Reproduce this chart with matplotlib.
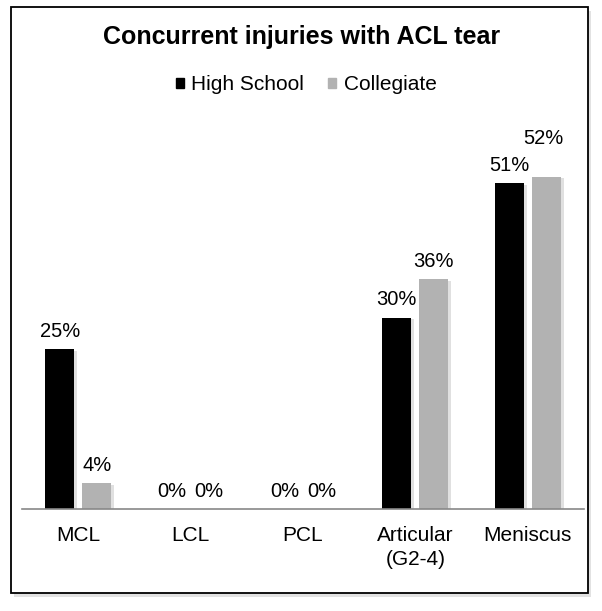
import numpy as np
import matplotlib
matplotlib.use('Agg')
import matplotlib.pyplot as plt
import matplotlib.patheffects as pe
from matplotlib.patches import Rectangle

categories = ['MCL', 'LCL', 'PCL', 'Articular\n(G2-4)', 'Meniscus']
high_school = [25, 0, 0, 30, 51]
collegiate = [4, 0, 0, 36, 52]
series_names = ['High School', 'Collegiate']
colors = ['#000000', '#b2b2b2']

plt.rcParams['font.family'] = ['Liberation Sans', 'DejaVu Sans']

fig = plt.figure(figsize=(6.02, 6.11), dpi=100)
fig.patch.set_facecolor('white')

# outer frame with a soft shadow
shadow = Rectangle((14 / 602, 1 - 597 / 611), 577 / 602, 586 / 611, transform=fig.transFigure,
                   facecolor='#e2e2e2', edgecolor='none', zorder=0)
frame = Rectangle((11 / 602, 1 - 593 / 611), 577 / 602, 586 / 611, transform=fig.transFigure,
                  facecolor='white', edgecolor='black', linewidth=1.3, zorder=0.5)
fig.patches.extend([shadow, frame])

ax = fig.add_axes([22 / 602, 1 - 509 / 611, 562 / 602, 383 / 611])
ax.set_facecolor('none')
ax.set_zorder(2)

x = np.arange(len(categories))
width = 0.258
offset = 0.165
shadow_fx = [pe.SimplePatchShadow(offset=(2, -1), shadow_rgbFace='#cccccc', alpha=0.6), pe.Normal()]

# Meniscus collegiate label sits higher in the original to clear its neighbour
nudge = {(1, 4): (-2, 15)}

handles = []
for si, (vals, off, col) in enumerate(zip([high_school, collegiate], [-offset, offset], colors)):
    bars = ax.bar(x + off, vals, width, color=col, zorder=2)
    handles.append(Rectangle((0, 0), 1, 1, color=col))
    for b in bars:
        b.set_path_effects(shadow_fx)
    for ci, (xi, v) in enumerate(zip(x + off, vals)):
        dx, dy = nudge.get((si, ci), (0, 0))
        ax.annotate(f'{v}%', (xi, v), xytext=(dx, 6 + dy), textcoords='offset points',
                    ha='center', va='bottom', fontsize=14.5)

ax.set_xlim(-0.5, len(categories) - 0.5)
ax.set_ylim(0, 60)
ax.set_xticks(x)
ax.set_xticklabels(categories, fontsize=15, linespacing=1.35, va='top')
ax.tick_params(axis='x', length=0, pad=12)
ax.set_yticks([])
for s in ['top', 'right', 'left']:
    ax.spines[s].set_visible(False)
ax.spines['bottom'].set_color('#888888')
ax.spines['bottom'].set_linewidth(1.2)

fig.text(302 / 602, 1 - 37 / 611, 'Concurrent injuries with ACL tear', ha='center', va='center',
         fontsize=18, fontweight='bold')
leg = fig.legend(handles, series_names, loc='center', bbox_to_anchor=(306 / 602, 1 - 85 / 611),
                 ncol=2, frameon=False, fontsize=15, handlelength=0.4, handleheight=0.4,
                 handletextpad=0.35, columnspacing=1.15)
leg.set_zorder(3)

fig.savefig('out.png', dpi=100)
